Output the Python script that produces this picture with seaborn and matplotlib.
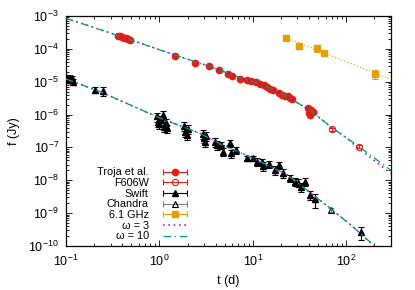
import numpy as np
import matplotlib
matplotlib.use('Agg')
import matplotlib.pyplot as plt
import seaborn as sns
from matplotlib.container import ErrorbarContainer
from matplotlib.legend_handler import HandlerErrorbar
from matplotlib.lines import Line2D

# =============================================
# DATA
# =============================================

# Troja et al. optical points
troja_t = [0.36, 0.38, 0.40, 0.42, 0.44, 0.46, 0.49, 1.47, 2.41, 3.40, 4.38, 5.38,
           5.98, 7.28, 8.65, 9.54, 10.8, 11.9, 13.1, 14.2, 15.3, 16.4,
           19.0, 20.4, 21.8, 23.6, 24.9, 26.0, 38.8, 39.8, 40.8, 41.8, 43.8]
troja_f = [2.5e-4, 2.4e-4, 2.3e-4, 2.2e-4, 2.1e-4, 2.0e-4, 1.9e-4, 6.1e-5, 3.8e-5, 2.9e-5, 2.2e-5, 1.7e-5,
           1.49e-5, 1.21e-5, 1.13e-5, 1.05e-5, 9.8e-6, 8.5e-6, 7.9e-6, 6.9e-6, 6.0e-6, 5.6e-6,
           4.5e-6, 4.0e-6, 3.7e-6, 3.7e-6, 3.2e-6, 2.95e-6, 1.58e-6, 1.12e-6, 9.6e-7, 1.38e-6, 1.2e-6]
troja_err = [0.05] * len(troja_t)

# HST F606W
f606_t = [70.5, 137.0]
f606_f = [3.5e-7, 1.05e-7]
f606_err = [0.08, 0.1]

# Swift X-ray
swift_t = [0.104, 0.110, 0.115, 0.118, 0.206, 0.249,
           0.94, 0.96, 1.0, 1.05, 1.1, 1.12, 1.18, 1.2,
           1.85, 1.9, 1.95, 2.0, 2.9, 3.0, 3.05, 3.15, 3.9, 4.1,
           4.6, 4.8, 5.7, 5.9, 6.6, 8.6, 10.1, 11.0, 12.4, 12.9, 15.0, 17.2, 19.0,
           21.0, 24.9, 28.0, 30.5, 33.0, 36.0, 40.8, 46.7, 144.0]
swift_f = [1.3e-5, 1.1e-5, 1.25e-5, 1.0e-5, 5.6e-6, 5.3e-6,
           8.7e-7, 6.0e-7, 5.0e-7, 7.0e-7, 9.5e-7, 4.2e-7, 5.5e-7, 3.8e-7,
           4.5e-7, 3.0e-7, 2.4e-7, 3.6e-7, 2.6e-7, 1.9e-7, 1.5e-7, 2.2e-7, 1.5e-7, 1.2e-7,
           1.17e-7, 7.4e-8, 1.35e-7, 6.6e-8, 8.3e-8, 4.7e-8, 4.7e-8, 3.7e-8, 3.5e-8, 2.75e-8, 3.1e-8, 2.1e-8, 2.95e-8,
           1.7e-8, 1.15e-8, 9.1e-9, 8.5e-9, 6.3e-9, 9.1e-9, 3.5e-9, 2.6e-9, 2.6e-10]
swift_err = [0.2, 0.2, 0.2, 0.2, 0.2, 0.3,
             0.3, 0.3, 0.3, 0.3, 0.3, 0.3, 0.3, 0.3,
             0.3, 0.3, 0.3, 0.3, 0.3, 0.3, 0.3, 0.3, 0.3, 0.3,
             0.25, 0.25, 0.25, 0.3, 0.25, 0.2, 0.2, 0.25, 0.25, 0.3, 0.25, 0.3, 0.25,
             0.3, 0.25, 0.25, 0.25, 0.3, 0.25, 0.3, 0.45, 0.4]

# Chandra X-ray
chandra_t = [69.0]
chandra_f = [1.26e-9]
chandra_err = [0.15]

# 6.1 GHz radio
radio_t = [22.4, 31.1, 48.0, 58.0, 205.0]
radio_f = [2.2e-4, 1.25e-4, 1.04e-4, 7.6e-5, 1.7e-5]
radio_err = [0.05, 0.05, 0.25, 0.05, 0.3]

# radio power-law guide
radio_fit_t = [22.4, 300.0]
radio_fit_f = [2.2e-4, 1.17e-5]

# model curves, omega = 3 and omega = 10
opt_t = [0.1, 0.4, 1.5, 3.4, 7.0, 12.0, 20.0, 40.0, 70.0, 100.0, 140.0, 300.0]
opt_w10_f = [8.5e-4, 2.3e-4, 6.3e-5, 2.95e-5, 1.38e-5, 8.5e-6, 4.5e-6, 1.4e-6, 4.0e-7, 1.95e-7, 1.0e-7, 2.0e-8]
opt_w3_f = [8.5e-4, 2.3e-4, 6.3e-5, 2.95e-5, 1.38e-5, 8.5e-6, 4.5e-6, 1.4e-6, 4.0e-7, 1.95e-7, 8.7e-8, 1.6e-8]

xr_t = [0.1, 0.23, 1.0, 2.7, 4.5, 10.0, 23.0, 41.0, 69.0, 118.0, 200.0, 300.0]
xr_w10_f = [1.2e-5, 5.0e-6, 7.9e-7, 2.7e-7, 1.26e-7, 4.7e-8, 1.5e-8, 4.2e-9, 1.32e-9, 3.8e-10, 1.0e-10, 3.5e-11]
xr_w3_f = [1.2e-5, 5.0e-6, 7.9e-7, 2.7e-7, 1.26e-7, 4.7e-8, 1.5e-8, 4.2e-9, 1.32e-9, 3.8e-10, 9.5e-11, 3.2e-11]

# =============================================
# STYLE
# =============================================
sns.set_style('ticks')
plt.rcParams['font.family'] = ['Liberation Sans', 'DejaVu Sans']
plt.rcParams['mathtext.fontset'] = 'custom'
plt.rcParams['mathtext.rm'] = 'Liberation Sans'
for key in ['text.color', 'axes.labelcolor', 'xtick.color', 'ytick.color', 'axes.edgecolor']:
    plt.rcParams[key] = 'black'

RED = '#e51e10'
ORANGE = '#e69f00'
PURPLE = '#9400d3'
TEAL = '#009e73'
GREY = '#808080'

fig = plt.figure(figsize=(4.15, 2.9), dpi=100)
ax = fig.add_axes([0.159, 0.152, 0.783, 0.793])
ax.set_xscale('log')
ax.set_yscale('log')


def plot_points(t, f, err, **kw):
    f = np.asarray(f)
    e = np.asarray(err) * f
    ax.errorbar(t, f, yerr=[e, e], capsize=2.4, elinewidth=0.8, capthick=0.8, zorder=2, **kw)


plot_points(troja_t, troja_f, troja_err, fmt='o', color=RED, ms=4.5)
plot_points(f606_t, f606_f, f606_err, fmt='o', color=RED, mfc='none', ms=4.5, mew=0.8)
plot_points(swift_t, swift_f, swift_err, fmt='^', color='black', ms=4.5)
plot_points(chandra_t, chandra_f, chandra_err, fmt='^', color=GREY, mfc='none', mec='black', ms=4.5, mew=0.8)
plot_points(radio_t, radio_f, radio_err, fmt='s', color=ORANGE, ms=4.5)

sns.lineplot(x=radio_fit_t, y=radio_fit_f, color=ORANGE, linestyle=(0, (1, 2)), lw=0.8, ax=ax, zorder=1)

# model curves on top of the data
sns.lineplot(x=opt_t, y=opt_w3_f, color=PURPLE, linestyle=(0, (1, 2.5)), lw=1.1, ax=ax, zorder=3)
sns.lineplot(x=xr_t, y=xr_w3_f, color=PURPLE, linestyle=(0, (1, 2.5)), lw=1.1, ax=ax, zorder=3)
sns.lineplot(x=opt_t, y=opt_w10_f, color=TEAL, linestyle=(0, (6, 3, 1, 3)), lw=0.9, ax=ax, zorder=4)
sns.lineplot(x=xr_t, y=xr_w10_f, color=TEAL, linestyle=(0, (6, 3, 1, 3)), lw=0.9, ax=ax, zorder=4)

ax.set_xlim(0.1, 300)
ax.set_ylim(1e-10, 1e-3)
ax.set_xlabel('t (d)', fontsize=9, labelpad=4)
ax.set_ylabel('f (Jy)', fontsize=9, labelpad=6)
ax.tick_params(which='both', direction='in', top=True, right=True, labelsize=9, width=0.6)
ax.tick_params(axis='x', which='major', pad=6)
ax.tick_params(axis='y', which='major', pad=5)
ax.tick_params(which='major', length=4)
ax.tick_params(which='minor', length=2)
ax.set_yticks([10.0 ** k for k in range(-10, -2)])
for s in ax.spines.values():
    s.set_linewidth(0.9)

# legend (gnuplot style: label on left, horizontal error bar sample)
proxies = []
proxy_kw = [dict(fmt='o', color=RED, ms=4.5),
            dict(fmt='o', color=RED, mfc='none', ms=4.5, mew=0.8),
            dict(fmt='^', color='black', ms=4.5),
            dict(fmt='^', color=GREY, mfc='none', mec='black', ms=4.5, mew=0.8),
            dict(fmt='s', color=ORANGE, ms=4.5)]
for kw in proxy_kw:
    proxies.append(ax.errorbar([np.nan], [np.nan], xerr=[1.0], capsize=2.4, elinewidth=0.8, capthick=0.8, **kw))
proxies.append(Line2D([], [], color=PURPLE, linestyle=(0, (1, 2.5)), lw=1.1))
proxies.append(Line2D([], [], color=TEAL, linestyle=(0, (6, 3, 1, 3)), lw=0.9))
labels = ['Troja et al.', 'F606W', 'Swift', 'Chandra', '6.1 GHz', 'ω = 3', 'ω = 10']
ax.legend(proxies, labels, loc='lower right', bbox_to_anchor=(0.375, 0.02), frameon=False,
          markerfirst=False, fontsize=7.8, handlelength=2.3, handletextpad=1.3,
          labelspacing=0.06, borderpad=0, borderaxespad=0,
          handler_map={ErrorbarContainer: HandlerErrorbar(xerr_size=1.1)})

fig.savefig('out.png', dpi=100)
